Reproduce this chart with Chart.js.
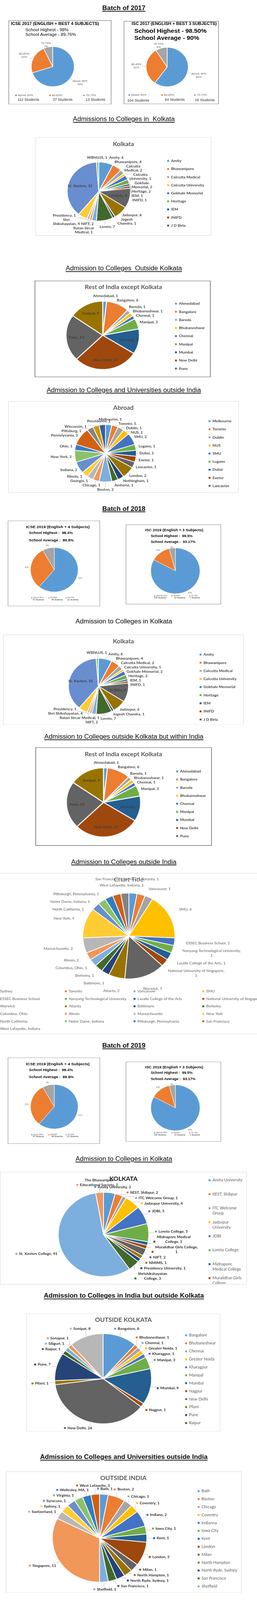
<!DOCTYPE html>
<html>
<head>
<meta charset="utf-8">
<title>Board results and college admissions</title>
<script src="https://cdn.jsdelivr.net/npm/chart.js@4.4.1/dist/chart.umd.min.js"></script>
<style>
  html, body { margin: 0; padding: 0; background: #fff; }
  body { position: relative; width: 658px; height: 4395px; overflow: hidden; font-family: "Liberation Sans", Arial, sans-serif; color: #000; }
  .h { position: absolute; left: 0; width: 634px; height: 20px; line-height: 20px; text-align: center; font-size: 17px; white-space: nowrap; color: #111; }
  .u { text-decoration: underline; text-decoration-thickness: 1.5px; text-underline-offset: 2px; }
  .b { font-weight: bold; }
  .box { position: absolute; }
  .box canvas { position: absolute; left: 0; top: 0; }
  .frame { position: absolute; left: 0; top: 0; right: 0; bottom: 0; box-sizing: border-box; pointer-events: none; }
  .t { position: absolute; white-space: nowrap; line-height: 1.2; }
  .tc { position: absolute; white-space: nowrap; transform: translate(-50%, -50%); }
  .ct { position: absolute; transform: translate(-50%, -50%); white-space: nowrap; font-family: Lato, sans-serif; font-weight: bold; font-size: 16px; color: #595959; }
  .st { color: #262626; }
</style>
</head>
<body>

<div class="h u b" style="top:13px">Batch of 2017</div>

<div class="box" style="left:22px;top:56px;width:263px;height:231px">
  <canvas id="icse17" width="263" height="231"></canvas>
  <div class="frame" style="border:1.5px solid #595959"></div>
  <div class="t b" style="left:6px;top:3px;font-size:11px">ICSE 2017 (ENGLISH + BEST 4 SUBJECTS)</div>
  <div class="t" style="left:43px;top:20px;font-size:11.5px">School Highest - 98%</div>
  <div class="t" style="left:43px;top:33px;font-size:11.5px">School Average - 89.76%</div>
  <div class="t st" id="icse17s0" style="left:23px;top:212px;font-size:9.5px"></div>
  <div class="t st" id="icse17s1" style="left:113px;top:212px;font-size:9.5px"></div>
  <div class="t st" id="icse17s2" style="left:197px;top:212px;font-size:9.5px"></div>
</div>

<div class="box" style="left:317px;top:58px;width:243px;height:228px">
  <canvas id="isc17" width="243" height="228"></canvas>
  <div class="frame" style="border:1.5px solid #595959"></div>
  <div class="t b" style="left:20px;top:1px;font-size:11px">ISC 2017 (ENGLISH + BEST 3 SUBJECTS)</div>
  <div class="t b" style="left:27px;top:17px;font-size:16px">School Highest - 98.50%</div>
  <div class="t b" style="left:27px;top:36px;font-size:16px">School Average - 90%</div>
  <div class="t st" id="isc17s0" style="left:9px;top:212px;font-size:9.5px"></div>
  <div class="t st" id="isc17s1" style="left:105px;top:210px;font-size:9.5px"></div>
  <div class="t st" id="isc17s2" style="left:182px;top:211px;font-size:9.5px"></div>
</div>

<div class="h u" style="top:318px">Admissions to Colleges in&nbsp; Kolkata</div>
<div class="box" style="left:91px;top:377px;width:450px;height:270px">
  <canvas id="kol17" width="450" height="270"></canvas>
  <div class="frame" style="border:1.5px solid #d9d9d9"></div>
  <div class="ct" style="left:225px;top:18px">Kolkata</div>
</div>

<div class="h u" style="top:728px">Admission to Colleges&nbsp; Outside Kolkata</div>
<div class="box" style="left:89px;top:771px;width:450px;height:265px">
  <canvas id="rest17" width="450" height="265"></canvas>
  <div class="frame" style="border:1.5px solid #1a1a1a"></div>
  <div class="ct" style="left:227px;top:17px">Rest of India except Kolkata</div>
</div>

<div class="h u" style="top:1062px">Admission to Colleges and Universities outside India</div>
<div class="box" style="left:21px;top:1102px;width:590px;height:251px">
  <canvas id="abroad17" width="590" height="251"></canvas>
  <div class="frame" style="border:1.5px solid #d9d9d9"></div>
  <div class="ct" style="left:295px;top:17px">Abroad</div>
</div>

<div class="h u b" style="top:1388px">Batch of 2018</div>

<div class="box" style="left:20px;top:1430px;width:236px;height:235px">
  <canvas id="icse18" width="236" height="235"></canvas>
  <div class="frame" style="border:1.5px solid #7f7f7f"></div>
  <div class="tc b" style="left:128px;top:17px;font-size:10.5px">ICSE 2019 (English + 4 Subjects)</div>
  <div class="t b" style="left:54px;top:28px;font-size:10px">School Highest :&nbsp; 98.4%</div>
  <div class="t b" style="left:54px;top:48px;font-size:10px">School Average :&nbsp; 89.8%</div>
  <div class="t st" id="icse18s0" style="left:64px;top:214px;font-size:5.4px"></div>
  <div class="t st" id="icse18s1" style="left:112px;top:214px;font-size:5.4px"></div>
  <div class="t st" id="icse18s2" style="left:152px;top:214px;font-size:5.4px"></div>
</div>

<div class="box" style="left:322px;top:1441px;width:244px;height:219px">
  <canvas id="isc18" width="244" height="219"></canvas>
  <div class="frame" style="border:1.5px solid #7f7f7f"></div>
  <div class="tc b" style="left:124px;top:15px;font-size:10px">ISC 2019 (English + 3 Subjects)</div>
  <div class="t b" style="left:64px;top:25px;font-size:9.5px">School Highest :&nbsp; 99.5%</div>
  <div class="t b" style="left:64px;top:42px;font-size:9.5px">School Average :&nbsp; 93.17%</div>
  <div class="t st" id="isc18s0" style="left:72px;top:198px;font-size:5.4px"></div>
  <div class="t st" id="isc18s1" style="left:124px;top:198px;font-size:5.4px"></div>
  <div class="t st" id="isc18s2" style="left:164px;top:198px;font-size:5.4px"></div>
</div>

<div class="h" style="top:1698px">Admission to Colleges in Kolkata</div>
<div class="box" style="left:8px;top:1743px;width:616px;height:249px">
  <canvas id="kol18" width="616" height="249"></canvas>
  <div class="frame" style="border:1.5px solid #d9d9d9"></div>
  <div class="ct" style="left:308px;top:18px">Kolkata</div>
</div>

<div class="h u" style="top:2014px">Admission to Colleges outside Kolkata but within India</div>
<div class="box" style="left:91px;top:2053px;width:451px;height:270px">
  <canvas id="rest18" width="451" height="270"></canvas>
  <div class="frame" style="border:1.5px solid #1a1a1a"></div>
  <div class="ct" style="left:225px;top:18px">Rest of India except Kolkata</div>
</div>

<div class="h u" style="top:2358px">Admission to Colleges outside India</div>
<div class="box" style="left:0px;top:2398px;width:658px;height:443px">
  <canvas id="abroad18" width="658" height="443"></canvas>
  <div class="frame" style="border-top:1.5px solid #d9d9d9;border-bottom:1.5px solid #d9d9d9"></div>
  <div class="ct" style="left:330px;top:18px;font-weight:normal;font-size:16.5px">Chart Title</div>
</div>

<div class="h u b" style="top:2863px">Batch of 2019</div>

<div class="box" style="left:20px;top:2905px;width:236px;height:237px">
  <canvas id="icse19" width="236" height="237"></canvas>
  <div class="frame" style="border:1.5px solid #7f7f7f"></div>
  <div class="tc b" style="left:128px;top:17px;font-size:10.5px">ICSE 2019 (English + 4 Subjects)</div>
  <div class="t b" style="left:54px;top:28px;font-size:10px">School Highest :&nbsp; 98.4%</div>
  <div class="t b" style="left:54px;top:48px;font-size:10px">School Average :&nbsp; 89.8%</div>
  <div class="t st" id="icse19s0" style="left:64px;top:214px;font-size:5.4px"></div>
  <div class="t st" id="icse19s1" style="left:112px;top:214px;font-size:5.4px"></div>
  <div class="t st" id="icse19s2" style="left:152px;top:214px;font-size:5.4px"></div>
</div>

<div class="box" style="left:322px;top:2916px;width:244px;height:220px">
  <canvas id="isc19" width="244" height="220"></canvas>
  <div class="frame" style="border:1.5px solid #7f7f7f"></div>
  <div class="tc b" style="left:124px;top:15px;font-size:10px">ISC 2019 (English + 3 Subjects)</div>
  <div class="t b" style="left:64px;top:25px;font-size:9.5px">School Highest :&nbsp; 99.5%</div>
  <div class="t b" style="left:64px;top:42px;font-size:9.5px">School Average :&nbsp; 93.17%</div>
  <div class="t st" id="isc19s0" style="left:72px;top:198px;font-size:5.4px"></div>
  <div class="t st" id="isc19s1" style="left:124px;top:198px;font-size:5.4px"></div>
  <div class="t st" id="isc19s2" style="left:164px;top:198px;font-size:5.4px"></div>
</div>

<div class="h u" style="top:3174px">Admission to Colleges in Kolkata</div>
<div class="box" style="left:0px;top:3219px;width:632px;height:309px">
  <canvas id="kol19" width="632" height="309"></canvas>
  <div class="frame" style="border:1.5px solid #d9d9d9"></div>
  <div class="ct" style="left:316px;top:18px;color:#111">KOLKATA</div>
</div>

<div class="h u b" style="top:3550px">Admission to Colleges in India but outside Kolkata</div>
<div class="box" style="left:68px;top:3608px;width:496px;height:324px">
  <canvas id="out19" width="496" height="324"></canvas>
  <div class="frame" style="border:1.5px solid #d9d9d9"></div>
  <div class="ct" style="left:248px;top:16px">OUTSIDE KOLKATA</div>
</div>

<div class="h u b" style="top:3993px">Admission to Colleges and Universities outside India</div>
<div class="box" style="left:15px;top:4042px;width:603px;height:333px">
  <canvas id="abroad19" width="603" height="333"></canvas>
  <div class="frame" style="border:1.5px solid #d9d9d9"></div>
  <div class="ct" style="left:301px;top:17px">OUTSIDE INDIA</div>
</div>

<script>
// Office chart colours, in the order Excel hands them out
const palette = ['#5B9BD5', '#ED7D31', '#A5A5A5', '#FFC000', '#4472C4', '#70AD47', '#255E91', '#9E480E',
  '#636363', '#997300', '#264478', '#43682B', '#7CAFDD', '#F1975A', '#B7B7B7', '#FFCD33', '#698ED0',
  '#8CC168', '#327DC2', '#D26012', '#848484', '#CC9A00', '#3A5DA0'];

// Batch of 2017
const icse2017Bands = ['Above 90%', '80-89%', '70-79%'];
const icse2017Share = [70, 23, 7];
const icse2017Students = [112, 37, 13];
const isc2017Bands = ['Above 90%', '80-89%', '70-79%'];
const isc2017Share = [60, 31, 9];
const isc2017Students = [104, 54, 16];

const kolkata2017Colleges = ['Amity', 'Bhawanipore', 'Calcutta Medical', 'Calcutta University', 'Gokhale Memorial',
  'Heritage', 'IEM', 'INIFD', 'J D Birla', 'Jadavpur', 'Jogesh Chandra', 'Loreto', 'NIFT', 'Presidency',
  'Ratan Sircar Medical', 'Shri Shikshayatan', 'St. Xaviers', 'WBNUJS'];
const kolkata2017Students = [6, 4, 2, 1, 2, 2, 1, 1, 9, 6, 1, 7, 2, 1, 1, 4, 31, 1];

const restOfIndia2017Cities = ['Ahmedabad', 'Bangalore', 'Baroda', 'Bhubaneshwar', 'Chennai', 'Manipal',
  'Mumbai', 'New Delhi', 'Pune', 'Sonipat'];
const restOfIndia2017Students = [1, 6, 1, 1, 1, 3, 7, 17, 13, 9];

const abroad2017Places = ['Melbourne', 'Toronto', 'Dublin', 'NUS', 'SMU', 'Lugano', 'Dubai', 'Exeter',
  'Lancaster', 'London', 'Nothingham', 'Amherst', 'Boston', 'Chicago', 'Georgia', 'Illinois', 'Indiana',
  'New York', 'Ohio', 'Pennslyvania', 'Pittsburg', 'Wisconsin', 'Providence'];
const abroad2017Students = [1, 1, 1, 1, 2, 1, 1, 1, 1, 2, 1, 1, 2, 1, 1, 1, 2, 2, 1, 3, 1, 1, 1];

// Batch of 2018
const icse2018Bands = ['Above 90%', '80-89%', '65-79%'];
const icse2018Share = [61, 31, 8];
const icse2018Students = [97, 49, 12];
const isc2018Bands = ['ABOVE 90%', '80-89%', '70-79%'];
const isc2018Share = [83, 13, 4];
const isc2018Students = [140, 23, 7];

const kolkata2018Colleges = ['Amity', 'Bhawanipore', 'Calcutta Medical', 'Calcutta University', 'Gokhale Memorial',
  'Heritage', 'IEM', 'INIFD', 'J D Birla', 'Jadavpur', 'Jogesh Chandra', 'Loreto', 'NIFT', 'Presidency',
  'Ratan Sircar Medical', 'Shri Shikshayatan', 'St. Xaviers', 'WBNUJS'];
const kolkata2018Students = [6, 4, 2, 1, 2, 2, 1, 1, 9, 6, 1, 7, 2, 1, 1, 4, 31, 1];

const restOfIndia2018Cities = ['Ahmedabad', 'Bangalore', 'Baroda', 'Bhubaneshwar', 'Chennai', 'Manipal',
  'Mumbai', 'New Delhi', 'Pune', 'Sonipat'];
const restOfIndia2018Students = [1, 6, 1, 1, 1, 3, 7, 17, 13, 9];

const abroad2018Places = ['Sydney', 'Toronto', 'Vancouver', 'SMU', 'ESSEC Business School',
  'Nanyang Technological University', 'Lasalle College of the Arts', 'National University of Singapore',
  'Warwick', 'Atlanta', 'Baltimore', 'Berkeley', 'Columbus, Ohio', 'Illinois', 'Massachusetts', 'New York',
  'North California', 'Notre Dame, Indiana', 'Pittsburgh, Pennsylvania', 'San Francisco', 'West Lafayette, Indiana'];
const abroad2018Students = [1, 1, 1, 6, 1, 1, 1, 1, 5, 2, 1, 1, 1, 1, 2, 4, 1, 1, 1, 1, 1];

// Batch of 2019
const icse2019Bands = ['Above 90%', '80-89%', '65-79%'];
const icse2019Share = [61, 31, 8];
const icse2019Students = [97, 49, 12];
const isc2019Bands = ['ABOVE 90%', '80-89%', '70-79%'];
const isc2019Share = [83, 13, 4];
const isc2019Students = [140, 23, 7];

const kolkata2019Colleges = ['Amity University', 'IIEST, Shibpur', 'ITC Welcome Group', 'Jadavpur University',
  'JDBI', 'Loreto College', 'Midnapore Medical College', 'Muralidhar Girls College', 'NIFT', 'NMIMS',
  'Presidency University', 'Shrishikshayatan College', 'St. Xaviers College', 'The Bhawanipur Educational Society'];
const kolkata2019Students = [3, 2, 1, 4, 5, 5, 1, 1, 2, 1, 1, 3, 41, 2];

const outsideKolkata2019Cities = ['Bangalore', 'Bhubaneshwar', 'Chennai', 'Greater Noida', 'Kharagpur', 'Manipal',
  'Mumbai', 'Nagpur', 'New Delhi', 'Pilani', 'Pune', 'Raipur', 'Siliguri', 'Sonapur', 'Sonipat'];
const outsideKolkata2019Students = [8, 1, 1, 1, 1, 3, 9, 1, 26, 1, 7, 1, 1, 1, 8];

const outsideIndia2019Places = ['Bath', 'Boston', 'Chicago', 'Coventry', 'Indianna', 'Iowa City', 'Kent', 'London',
  'Milan', 'North Hampton', 'North Ryde, Sydney', 'San Francisco', 'Sheffield', 'Singapore', 'Switzerland',
  'Sydney', 'Syracuse', 'Virginia', 'Wellesley, MA', 'West Lafayette'];
const outsideIndia2019Students = [1, 2, 1, 1, 2, 1, 1, 3, 1, 1, 1, 1, 1, 11, 1, 1, 1, 1, 1, 1];

// the browser window tops out below the page height, so squeeze the page to fit it
const pageHeight = 4395;
const viewHeight = window.innerHeight || document.documentElement.clientHeight;
if (viewHeight && viewHeight < pageHeight) {
  document.body.style.transformOrigin = '0 0';
  document.body.style.transform = 'scaleY(' + (viewHeight / pageHeight) + ')';
}

function wrapWords(ctx, text, maxW) {
  const lines = [];
  let line = '';
  text.split(' ').forEach(word => {
    const test = line ? line + ' ' + word : word;
    if (line && ctx.measureText(test).width > maxW) {
      lines.push(line);
      line = word;
    } else {
      line = test;
    }
  });
  if (line) lines.push(line);
  return lines;
}

// push a label box out of the pie disc
function clearOfPie(it, margin) {
  const R = it.r + margin;
  const qx = Math.min(Math.max(it.cx, it.x), it.x + it.w);
  const qy = Math.min(Math.max(it.cy, it.y), it.y + it.h);
  const dx = qx - it.cx, dy = qy - it.cy;
  if (dx * dx + dy * dy >= R * R) return;
  if (dx === 0) {
    if (it.uy < 0) it.y = it.cy - R - it.h;
    else it.y = it.cy + R;
  } else {
    const need = Math.sqrt(Math.max(R * R - dy * dy, 0));
    if (dx > 0) it.x = it.cx + need;
    else it.x = it.cx - need - it.w;
  }
}

function spreadLabels(list, o, W, H) {
  const maxX = o.maxX || W - 2;
  const minY = o.minY || 2;
  const maxY = o.maxY || H - 3;
  for (let k = 0; k < 400; k++) {
    let moved = false;
    for (let a = 0; a < list.length; a++) {
      for (let b = a + 1; b < list.length; b++) {
        const A = list[a], B = list[b];
        const ovx = Math.min(A.x + A.w, B.x + B.w) - Math.max(A.x, B.x) + 3;
        const ovy = Math.min(A.y + A.h, B.y + B.h) - Math.max(A.y, B.y) + o.pad;
        if (ovx <= 0 || ovy <= 0) continue;
        moved = true;
        if (ovx < ovy) {
          const [l, r] = A.x + A.w / 2 <= B.x + B.w / 2 ? [A, B] : [B, A];
          l.x -= ovx / 2; r.x += ovx / 2;
        } else {
          const [u, d] = A.y + A.h / 2 <= B.y + B.h / 2 ? [A, B] : [B, A];
          u.y -= ovy / 2; d.y += ovy / 2;
        }
      }
    }
    list.forEach(it => {
      clearOfPie(it, o.gap * 0.5);
      it.y = Math.min(Math.max(it.y, minY), maxY - it.h);
      if (o.clamp !== false) it.x = Math.min(Math.max(it.x, 2), maxX - it.w);
    });
    if (!moved) break;
  }
}

// data labels with leader lines, placed from the arcs the library laid out
function sliceLabels(o) {
  return {
    id: 'sliceLabels',
    afterDatasetsDraw(chart) {
      const ctx = chart.ctx;
      const ds = chart.data.datasets[0];
      const names = o.names || chart.data.labels;
      const lh = o.lineHeight;
      const keyW = o.key ? o.key + 4 : 0;
      ctx.save();
      ctx.font = o.font;
      const items = chart.getDatasetMeta(0).data.map((arc, i) => {
        const p = arc.getProps(['x', 'y', 'startAngle', 'endAngle', 'outerRadius'], true);
        const mid = (p.startAngle + p.endAngle) / 2;
        const ux = Math.cos(mid), uy = Math.sin(mid);
        const raw = o.text(names[i], ds.data[i]);
        const lines = Array.isArray(raw) ? raw : wrapWords(ctx, raw, o.wrap || 9999);
        const w = Math.max(...lines.map(t => ctx.measureText(t).width)) + keyW;
        const h = lines.length * lh;
        const inside = o.insideMin !== undefined && ds.data[i] >= o.insideMin;
        const it = { lines, w, h, ux, uy, inside, cx: p.x, cy: p.y, r: p.outerRadius, color: ds.backgroundColor[i] };
        if (inside) {
          it.x = p.x + ux * p.outerRadius * o.insideAt - w / 2;
          it.y = p.y + uy * p.outerRadius * o.insideAt - h / 2;
        } else {
          const R = p.outerRadius + o.gap;
          it.x = p.x + ux * R - w * (1 - ux) / 2;
          it.y = p.y + uy * R - h * (1 - uy) / 2;
        }
        return it;
      });
      spreadLabels(items.filter(it => !it.inside), o, chart.width, chart.height);

      ctx.textBaseline = 'middle';
      ctx.textAlign = 'left';
      items.forEach(it => {
        if (!it.inside && o.leader) {
          const ex = it.cx + it.ux * (it.r + 1), ey = it.cy + it.uy * (it.r + 1);
          const qx = Math.min(Math.max(ex, it.x - 1), it.x + it.w + 1);
          const qy = Math.min(Math.max(ey, it.y), it.y + it.h);
          if (Math.hypot(qx - ex, qy - ey) > o.leaderMin) {
            ctx.strokeStyle = o.leader;
            ctx.lineWidth = 0.8;
            ctx.beginPath();
            ctx.moveTo(ex, ey);
            ctx.lineTo(qx, qy);
            ctx.stroke();
          }
        }
        ctx.fillStyle = o.color;
        it.lines.forEach((t, j) => {
          const tw = ctx.measureText(t).width;
          ctx.fillText(t, it.x + keyW + (it.w - keyW - tw) / 2, it.y + lh * (j + 0.5));
        });
        if (o.key) {
          ctx.fillStyle = it.color;
          ctx.fillRect(it.x, it.y + it.h - lh / 2 - o.key / 2, o.key, o.key);
        }
      });
      ctx.restore();
    }
  };
}

// Excel style legend: list on the side or a grid under the pie
function keyLegend(o) {
  return {
    id: 'keyLegend',
    afterDraw(chart) {
      const ctx = chart.ctx;
      const names = chart.data.labels;
      const colors = chart.data.datasets[0].backgroundColor;
      const n = Math.min(o.count || names.length, names.length);
      const cols = o.cols || 1;
      ctx.save();
      ctx.font = o.font;
      ctx.textBaseline = 'middle';
      ctx.textAlign = 'left';
      for (let i = 0; i < n; i++) {
        const x = o.x + (i % cols) * (o.dx || 0);
        const y = o.y + Math.floor(i / cols) * (o.dy || 0);
        ctx.fillStyle = colors[i];
        ctx.fillRect(x, y - o.box / 2, o.box, o.box);
        ctx.fillStyle = o.color;
        const lines = o.wrap ? wrapWords(ctx, names[i], o.wrap) : [names[i]];
        lines.forEach((t, j) => ctx.fillText(t, x + o.box + o.space, y + j * (o.lineHeight || 0)));
      }
      ctx.restore();
    }
  };
}

function pieChart(id, names, values, geo, labels, legend) {
  const canvas = document.getElementById(id);
  const W = canvas.width, H = canvas.height;
  const s = geo.r + 4;
  return new Chart(canvas, {
    type: 'pie',
    data: {
      labels: names,
      datasets: [{
        data: values,
        backgroundColor: palette.slice(0, values.length),
        borderColor: '#ffffff',
        borderWidth: geo.border || 2,
        radius: geo.r
      }]
    },
    options: {
      responsive: false,
      animation: false,
      events: [],
      layout: { padding: { left: geo.cx - s, right: W - geo.cx - s, top: geo.cy - s, bottom: H - geo.cy - s } },
      plugins: { legend: { display: false }, tooltip: { enabled: false }, title: { display: false } }
    },
    plugins: [sliceLabels(labels), keyLegend(legend)]
  });
}

function fillStudents(prefix, counts) {
  counts.forEach((c, i) => { document.getElementById(prefix + i).textContent = c + ' Students'; });
}

const bandLabels = { font: '7.5px "Liberation Sans", Arial', color: '#595959', lineHeight: 9, gap: 12, pad: 2,
  leader: '#a6a6a6', leaderMin: 4, minY: 58, text: (n, v) => [n, v + '%'] };
const tinyLabels = { font: '5px "Liberation Sans", Arial', color: '#595959', lineHeight: 6, gap: 5, pad: 1,
  minY: 60, text: (n, v) => [v + '%'] };
const bandLegend = { font: '7.5px "Liberation Sans", Arial', color: '#595959', box: 4, space: 3, cols: 3 };
const tinyLegend = { font: '5px "Liberation Sans", Arial', color: '#595959', box: 3, space: 2, cols: 3 };

const boldLabels = { font: 'bold 10px Lato', color: '#404040', lineHeight: 11, gap: 6, pad: 1,
  leader: '#a6a6a6', leaderMin: 5, text: (n, v) => n + ', ' + v };
const sideLegend = { font: 'bold 10px Lato', color: '#404040', box: 5, space: 5, dy: 22.2, count: 9 };
const keyedLabels = { font: 'bold 10px Lato', color: '#262626', lineHeight: 13, gap: 16, pad: 2, key: 5,
  leader: '#a6a6a6', leaderMin: 5, text: (n, v) => n + ', ' + v };
const greyLegend = { font: '10.5px Lato', color: '#595959', box: 5, space: 5 };

// 2017
pieChart('icse17', icse2017Bands, icse2017Share, { cx: 113, cy: 127, r: 55, border: 1.5 },
  bandLabels, { ...bandLegend, x: 17, dx: 87, y: 206 });
pieChart('isc17', isc2017Bands, isc2017Share, { cx: 111, cy: 126, r: 54, border: 1.5 },
  bandLabels, { ...bandLegend, x: 12, dx: 84, y: 203 });
fillStudents('icse17s', icse2017Students);
fillStudents('isc17s', isc2017Students);

pieChart('kol17', kolkata2017Colleges, kolkata2017Students, { cx: 162, cy: 149, r: 81 },
  { ...boldLabels, wrap: 70, insideMin: 8, insideAt: 0.62, maxX: 334, minY: 50, maxY: 266 },
  { ...sideLegend, x: 337, y: 65 });
pieChart('rest17', restOfIndia2017Cities, restOfIndia2017Students, { cx: 174, cy: 150, r: 94, border: 2.5 },
  { ...boldLabels, gap: 8, insideMin: 7, insideAt: 0.72, maxX: 356, minY: 33 },
  { ...sideLegend, x: 359, y: 63, dy: 22.3 });
pieChart('abroad17', abroad2017Places, abroad2017Students, { cx: 249, cy: 143, r: 79 },
  { ...boldLabels, gap: 8, maxX: 508, minY: 44 }, { ...sideLegend, x: 513, y: 55 });

// 2018
pieChart('icse18', icse2018Bands, icse2018Share, { cx: 119, cy: 135, r: 61, border: 1 },
  tinyLabels, { ...tinyLegend, x: 60, dx: 44, y: 212 });
pieChart('isc18', isc2018Bands, isc2018Share, { cx: 127, cy: 127, r: 63, border: 1 },
  tinyLabels, { ...tinyLegend, x: 72, dx: 45, y: 196 });
fillStudents('icse18s', icse2018Students);
fillStudents('isc18s', isc2018Students);

pieChart('kol18', kolkata2018Colleges, kolkata2018Students, { cx: 244, cy: 142, r: 77 },
  { ...boldLabels, insideMin: 8, insideAt: 0.62, maxX: 500, minY: 44 },
  { ...sideLegend, x: 503, y: 55, dy: 22.3 });
pieChart('rest18', restOfIndia2018Cities, restOfIndia2018Students, { cx: 174, cy: 151, r: 95, border: 2.5 },
  { ...boldLabels, gap: 8, insideMin: 7, insideAt: 0.72, maxX: 357, minY: 34 }, { ...sideLegend, x: 360, y: 66 });
pieChart('abroad18', abroad2018Places, abroad2018Students, { cx: 330, cy: 173, r: 118 },
  { font: '10px Lato', color: '#595959', lineHeight: 13, gap: 30, pad: 8, wrap: 150, clamp: false, minY: 10,
    maxY: 330, text: (n, v) => n + ', ' + v },
  { font: '10px Lato', color: '#595959', box: 5, space: 5, x: -10, dx: 176, cols: 4, y: 325, dy: 20.6 });

// 2019
pieChart('icse19', icse2019Bands, icse2019Share, { cx: 119, cy: 135, r: 61, border: 1 },
  tinyLabels, { ...tinyLegend, x: 60, dx: 44, y: 212 });
pieChart('isc19', isc2019Bands, isc2019Share, { cx: 127, cy: 127, r: 63, border: 1 },
  tinyLabels, { ...tinyLegend, x: 72, dx: 45, y: 196 });
fillStudents('icse19s', icse2019Students);
fillStudents('isc19s', isc2019Students);

pieChart('kol19', kolkata2019Colleges, kolkata2019Students, { cx: 265, cy: 172, r: 116 },
  { ...keyedLabels, wrap: 112, maxX: 530, minY: 16 },
  { ...greyLegend, x: 534, y: 23, dy: 38.4, count: 8, wrap: 80, lineHeight: 14 });
pieChart('out19', outsideKolkata2019Cities, outsideKolkata2019Students, { cx: 196, cy: 179, r: 124 },
  { ...keyedLabels, maxX: 404, minY: 19 }, { ...greyLegend, x: 406, y: 60, dy: 21.9, count: 12 });
pieChart('abroad19', outsideIndia2019Places, outsideIndia2019Students, { cx: 240, cy: 183, r: 121 },
  { ...keyedLabels, maxX: 489, minY: 32, names: outsideIndia2019Places.map(p => p === 'Indianna' ? 'Indiana' : p) },
  { ...greyLegend, x: 491, y: 54, dy: 21.8, count: 13 });
</script>
</body>
</html>
